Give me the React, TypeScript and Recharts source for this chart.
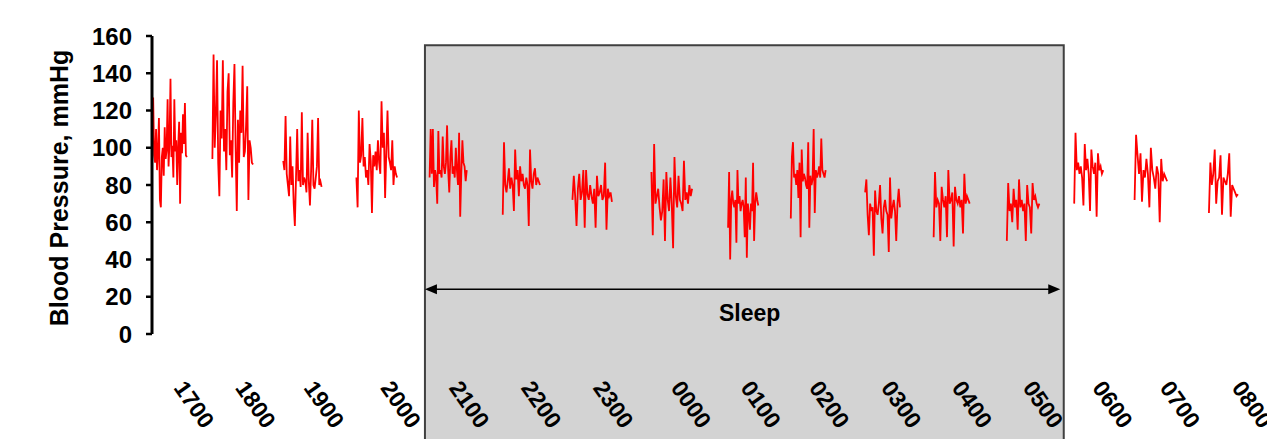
import { LineChart, Line, XAxis, YAxis, ReferenceArea, ReferenceLine } from "recharts";

// hourly recording blocks, x in elapsed record minutes
const hourLabels = ["1700", "1800", "1900", "2000", "2100", "2200", "2300", "0000", "0100", "0200", "0300", "0400", "0500", "0600", "0700", "0800"];
const tickTimes = [18, 71, 130, 196, 255, 317, 379, 446, 506, 565, 627, 688, 749, 809, 867, 929];
const blockStart = [1, 52, 113, 176, 239, 302, 362, 430, 496, 550, 614, 673, 736, 794, 846, 910];
const blockLength = [29, 35, 33, 35, 32, 32, 34, 35, 26, 30, 30, 31, 28, 25, 28, 25];
const yTicks = [0, 20, 40, 60, 80, 100, 120, 140, 160];

const bp1700 = [127, 96, 92, 110, 88, 98, 116, 72, 68, 95, 100, 85, 111, 94, 99, 126, 90, 103, 137, 95, 101, 84, 126, 98, 104, 80, 100, 114, 70, 108, 97, 118, 102, 124, 96, 95];
const bp1800 = [94, 150, 100, 118, 147, 92, 74, 120, 105, 147, 98, 110, 88, 130, 140, 96, 104, 84, 124, 145, 100, 66, 115, 92, 120, 108, 144, 95, 98, 112, 133, 72, 104, 100, 92, 91];
const bp1900 = [93, 88, 117, 86, 80, 74, 106, 80, 90, 70, 58, 84, 110, 82, 88, 79, 119, 80, 84, 82, 76, 108, 82, 69, 88, 115, 80, 78, 84, 90, 116, 80, 82, 79];
const bp2000 = [84, 68, 120, 92, 96, 116, 90, 95, 84, 88, 80, 102, 93, 65, 96, 90, 98, 88, 104, 92, 86, 125, 100, 108, 73, 98, 120, 95, 92, 88, 104, 80, 90, 86, 84];
const bp2100 = [84, 110, 86, 110, 79, 88, 84, 70, 109, 86, 88, 84, 106, 90, 86, 92, 112, 88, 76, 95, 104, 86, 90, 84, 100, 88, 80, 108, 63, 86, 104, 92, 90, 82, 88];
const bp2200 = [64, 103, 80, 76, 82, 89, 78, 84, 80, 66, 99, 83, 88, 74, 90, 82, 86, 80, 78, 84, 80, 58, 99, 82, 78, 86, 89, 80, 84, 82, 80];
const bp2300 = [72, 85, 74, 58, 78, 86, 72, 76, 88, 57, 88, 75, 72, 80, 74, 70, 78, 57, 85, 74, 76, 80, 72, 74, 92, 56, 78, 74, 76, 71];
const bp0000 = [87, 53, 102, 70, 74, 78, 68, 61, 66, 83, 50, 87, 72, 66, 84, 70, 46, 95, 74, 68, 85, 72, 70, 66, 93, 72, 76, 70, 80, 74, 78];
const bp0100 = [57, 87, 40, 72, 77, 70, 68, 72, 49, 88, 70, 74, 66, 70, 72, 68, 52, 84, 41, 70, 64, 56, 70, 66, 92, 50, 70, 76, 72, 69];
const bp0200 = [62, 95, 103, 84, 86, 80, 88, 73, 92, 52, 99, 82, 86, 84, 80, 78, 103, 57, 85, 80, 83, 110, 65, 88, 84, 86, 90, 84, 105, 88, 86, 84, 88];
const bp0300 = [76, 83, 64, 53, 70, 66, 68, 42, 77, 66, 64, 70, 80, 62, 54, 68, 72, 66, 64, 44, 84, 62, 68, 72, 66, 50, 70, 78, 68];
const bp0400 = [52, 87, 68, 72, 70, 50, 79, 72, 68, 74, 52, 88, 70, 72, 76, 47, 79, 72, 70, 74, 68, 72, 54, 86, 70, 74, 72, 70];
const bp0500 = [50, 81, 66, 70, 60, 78, 68, 72, 56, 83, 68, 72, 66, 70, 50, 80, 70, 68, 54, 81, 72, 74, 70, 68, 70];
const bp0600 = [70, 108, 88, 92, 86, 90, 84, 69, 102, 88, 94, 86, 66, 99, 90, 86, 92, 63, 97, 88, 90, 86, 88];
const bp0700 = [72, 107, 96, 86, 97, 71, 88, 84, 94, 86, 68, 100, 88, 84, 78, 90, 86, 60, 94, 82, 86, 84, 82];
const bp0800 = [65, 92, 80, 86, 99, 70, 82, 84, 96, 64, 84, 82, 80, 86, 97, 63, 80, 78, 76, 74, 75];

const blocks = [bp1700, bp1800, bp1900, bp2000, bp2100, bp2200, bp2300, bp0000, bp0100, bp0200, bp0300, bp0400, bp0500, bp0600, bp0700, bp0800];

const sleepFrom = 235;
const sleepTo = 782;

const data: { t: number; bp: number | null }[] = [];
blocks.forEach((vals, b) => {
  const step = blockLength[b] / (vals.length - 1);
  vals.forEach((v, i) => data.push({ t: blockStart[b] + i * step, bp: v }));
  data.push({ t: blockStart[b] + blockLength[b] + 1, bp: null });
});

const FONT = "'Liberation Sans', Arial, sans-serif";

function HourTick(props: any) {
  const { x, y, index } = props;
  const ty = y + 54;
  return (
    <text x={x} y={ty} transform={`rotate(55, ${x}, ${ty})`} fontSize={23} fontWeight="bold" fontFamily={FONT} fill="#000">
      {hourLabels[index]}
    </text>
  );
}

function SleepArrow(props: any) {
  const { x1, x2, y1 } = props;
  const y = y1;
  return (
    <g>
      <line x1={x1 + 8} y1={y} x2={x2 - 8} y2={y} stroke="#000" strokeWidth={1.5} />
      <polygon points={`${x1},${y} ${x1 + 12},${y - 5} ${x1 + 12},${y + 5}`} fill="#000" />
      <polygon points={`${x2},${y} ${x2 - 12},${y - 5} ${x2 - 12},${y + 5}`} fill="#000" />
      <text x={(x1 + x2) / 2 + 7} y={y + 32} textAnchor="middle" fontSize={23} fontWeight="bold" fontFamily={FONT} fill="#000">
        Sleep
      </text>
    </g>
  );
}

export default function App() {
  return (
    <div style={{ position: "absolute", left: 0, top: 0, width: 1267, height: 439, background: "#fff" }}>
      <LineChart width={1267} height={439} data={data} margin={{ top: 36, right: 0, bottom: 0, left: 0 }}>
        <ReferenceArea
          x1={sleepFrom}
          x2={785}
          y1={-80}
          y2={155}
          ifOverflow="visible"
          fill="#d3d3d3"
          fillOpacity={1}
          stroke="#404040"
          strokeWidth={2}
        />
        <XAxis
          dataKey="t"
          type="number"
          domain={[0, 960]}
          ticks={tickTimes}
          interval={0}
          axisLine={false}
          tickLine={false}
          tickSize={0}
          tickMargin={0}
          height={105}
          tick={<HourTick />}
        />
        <YAxis
          type="number"
          domain={[0, 160]}
          ticks={yTicks}
          interval={0}
          width={152}
          axisLine={{ stroke: "#000", strokeWidth: 3 }}
          tickLine={{ stroke: "#000", strokeWidth: 2.5 }}
          tickSize={6}
          tickMargin={14}
          tick={{ fill: "#000", fontSize: 24, fontWeight: "bold", fontFamily: FONT }}
          label={(p: any) => {
            const vb = p.viewBox || { y: 36, height: 298 };
            const cx = 59;
            const cy = vb.y + vb.height / 2 + 3;
            return (
              <text
                x={cx}
                y={cy}
                transform={`rotate(-90, ${cx}, ${cy})`}
                textAnchor="middle"
                dominantBaseline="central"
                fontSize={25}
                fontWeight="bold"
                fontFamily={FONT}
                fill="#000"
              >
                Blood Pressure, mmHg
              </text>
            );
          }}
        />
        <ReferenceLine
          segment={[
            { x: sleepFrom, y: 24 },
            { x: sleepTo, y: 24 },
          ]}
          ifOverflow="visible"
          shape={<SleepArrow />}
        />
        <Line
          type="linear"
          dataKey="bp"
          stroke="#ff0000"
          strokeWidth={1.8}
          dot={false}
          activeDot={false}
          connectNulls={false}
          isAnimationActive={false}
        />
      </LineChart>
    </div>
  );
}
